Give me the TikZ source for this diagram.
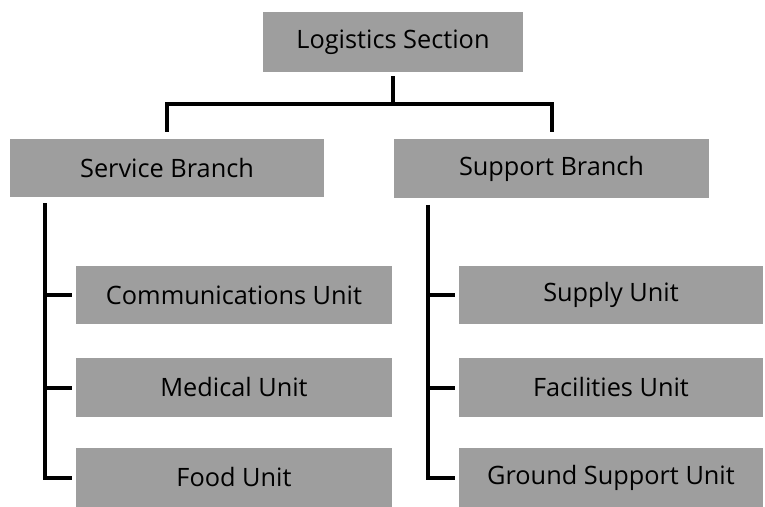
\documentclass[tikz,border=0pt]{standalone}
\usepackage{fontspec}
\setmainfont{Open Sans}
\usepackage{tikz}
\tikzstyle{block} = [align=center,fill=black!38,rectangle,text centered,inner sep=0pt,font=\fontsize{18}{20}\selectfont]
\tikzstyle{head} = [block,minimum width=6.5cm,minimum height=1.5cm]
\tikzstyle{branch} = [block,minimum width=7.85cm,minimum height=1.45cm]
\tikzstyle{unit} = [block,minimum width=7.9cm,minimum height=1.45cm]
\tikzstyle{runit} = [block,minimum width=7.6cm,minimum height=1.45cm]
\tikzstyle{link} = [line width=0.1cm]

\begin{document}
\begin{tikzpicture}[x=0.025cm,y=-0.025cm]
				\useasboundingbox (0,0) rectangle (765,507);
				\node (log) [head] at (393,42) {Logistics Section};
				\node (svc) [branch] at (167,168) {Service Branch};
				\node (sup) [branch] at (551.5,168.5) {Support Branch};
				\node (comm) [unit] at (234,295) {Communications Unit};
				\node (med) [unit] at (234,387.5) {Medical Unit};
				\node (food) [unit] at (234,477.5) {Food Unit};
				\node (supply) [runit] at (611,295) {Supply Unit};
				\node (fac) [runit] at (611,387.5) {Facilities Unit};
				\node (gsu) [runit] at (611,477.5) {Ground Support Unit};
				\coordinate (hub) at (393,104);
				\coordinate (ltrunk) at ([xshift=0.875cm,yshift=-0.15cm]svc.south west);
				\coordinate (rtrunk) at ([xshift=0.85cm,yshift=-0.175cm]sup.south west);
				\draw [link] ([yshift=-0.1cm]log.south) -- (hub);
				\draw [link] ([yshift=0.175cm]svc.north) |- (hub) -| ([yshift=0.175cm]sup.north);
				\draw [link] (ltrunk) |- ([xshift=-0.1cm]food.west);
				\draw [link] (ltrunk |- comm.west) -- ([xshift=-0.1cm]comm.west);
				\draw [link] (ltrunk |- med.west) -- ([xshift=-0.1cm]med.west);
				\draw [link] (rtrunk) |- ([xshift=-0.1cm]gsu.west);
				\draw [link] (rtrunk |- supply.west) -- ([xshift=-0.1cm]supply.west);
				\draw [link] (rtrunk |- fac.west) -- ([xshift=-0.1cm]fac.west);
			\end{tikzpicture}
\end{document}
